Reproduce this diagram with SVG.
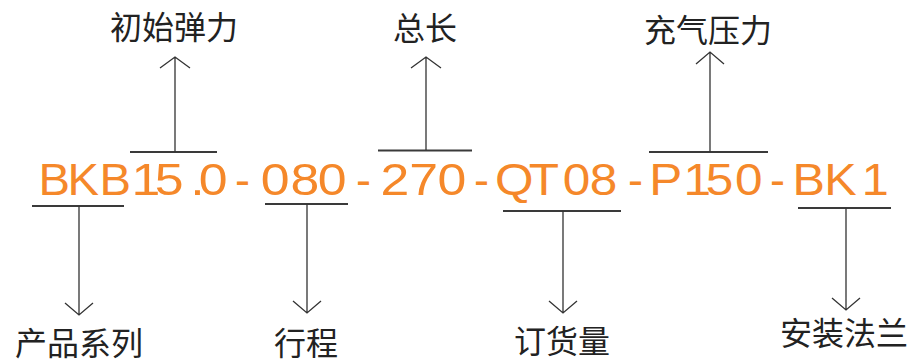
<svg xmlns="http://www.w3.org/2000/svg" width="912" height="363" viewBox="0 0 912 363">
<style>
.code{font-family:"Liberation Sans",Arial,sans-serif;font-size:45px;fill:#F5882A}
.lbl{font-family:"Noto Sans CJK SC","Noto Sans",sans-serif;font-size:32px;fill:#222;text-anchor:middle}
.bar{stroke:#3a3a3a;stroke-width:1.8;fill:none}
.ln{stroke:#333;stroke-width:1.3;fill:none}
</style>
<rect width="912" height="363" fill="#fff"/>
<g id="code">
<text class="code" transform="translate(38.5 195) scale(1.05 1)" x="0 27.6 58.1">BKB</text>
<text class="code" transform="translate(131.4 195) scale(1.15 1)" x="0 20.3">15</text>
<text class="code" transform="translate(190.3 195) scale(1.15 1)" x="0 7.4">.0</text>
<text class="code" transform="translate(235 195)">-</text>
<text class="code" transform="translate(260.8 195) scale(1.15 1)" x="0 25.9 49.6">080</text>
<text class="code" transform="translate(356 195)">-</text>
<text class="code" transform="translate(380.4 195) scale(1.15 1)" x="0 25.2 49.7">270</text>
<text class="code" transform="translate(474 195)">-</text>
<text class="code" transform="translate(495 195) scale(1.1 1)" x="0 30.6 61.7 86.1">QT08</text>
<text class="code" transform="translate(628 195)">-</text>
<text class="code" transform="translate(649.2 195) scale(1.1 1)" x="0 31.2 51.4 77.9">P150</text>
<text class="code" transform="translate(770 195)">-</text>
<text class="code" transform="translate(792.4 195) scale(1.08 1)" x="0 29.6 64.2">BK1</text>
</g>
<g id="connectors">
<path class="bar" d="M130 152H217"/>
<path class="ln" d="M175 152V57M160 68L175 57L190 68"/>
<path class="bar" d="M378 150.5H472"/>
<path class="ln" d="M426 150V57M411 68L426 57L441 68"/>
<path class="bar" d="M649 152H768"/>
<path class="ln" d="M710 152V52M696 64L710 52L724 64"/>
<path class="bar" d="M32 206H124"/>
<path class="ln" d="M79 206V315M65 303L79 315L93 303"/>
<path class="bar" d="M265 204H348"/>
<path class="ln" d="M307 204V313M293 301L307 313L321 301"/>
<path class="bar" d="M503 211H621"/>
<path class="ln" d="M563 211V313M549 301L563 313L577 301"/>
<path class="bar" d="M798 208H891"/>
<path class="ln" d="M846 208V310M832 298L846 310L860 298"/>
</g>
<g id="n-initial-force"><text class="lbl" x="174" y="39">初始弹力</text></g>
<g id="n-total-length"><text class="lbl" x="425" y="40">总长</text></g>
<g id="n-pressure"><text class="lbl" x="708" y="42">充气压力</text></g>
<g id="n-series"><text class="lbl" x="79" y="355">产品系列</text></g>
<g id="n-stroke"><text class="lbl" x="306" y="355">行程</text></g>
<g id="n-quantity"><text class="lbl" x="562" y="353">订货量</text></g>
<g id="n-flange"><text class="lbl" x="844" y="345">安装法兰</text></g>
</svg>
